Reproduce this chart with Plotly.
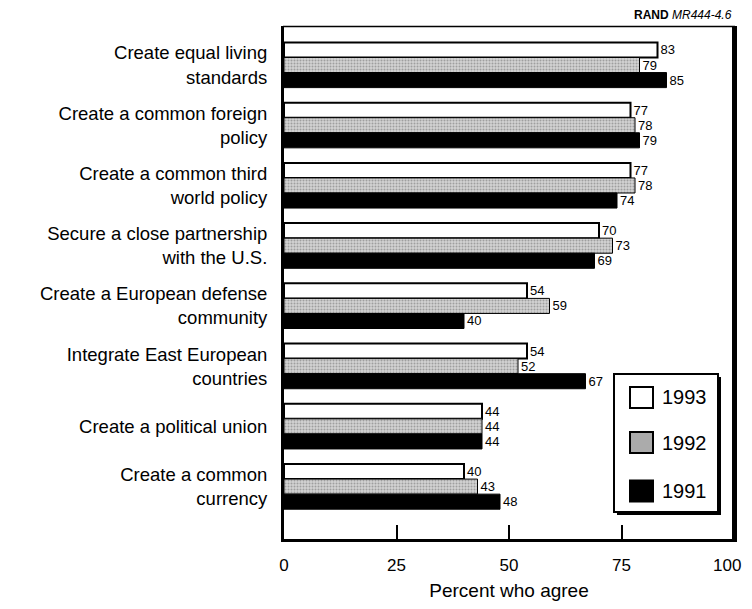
import plotly.graph_objects as go

categories = [
    "Create equal living<br>standards",
    "Create a common foreign<br>policy",
    "Create a common third<br>world policy",
    "Secure a close partnership<br>with the U.S.",
    "Create a European defense<br>community",
    "Integrate East European<br>countries",
    "Create a political union",
    "Create a common<br>currency",
]
years = ["1993", "1992", "1991"]
v1993 = [83, 77, 77, 70, 54, 54, 44, 40]
v1992 = [79, 78, 78, 73, 59, 52, 44, 43]
v1991 = [85, 79, 74, 69, 40, 67, 44, 48]
x_ticks = [0, 25, 50, 75, 100]
x_title = "Percent who agree"
source_label = "<b>RAND</b> <i>MR444-4.6</i>"

FONT = "Liberation Sans, Arial, Helvetica, sans-serif"
OFF = 8  # page body margin
W, H = 752 - 2 * OFF, 609 - 2 * OFF
L, T = 284 - OFF, 26 - OFF
R = W - (734 - OFF)
B = H - (539 - OFF)
PW, PH = W - L - R, H - T - B


def px(xp):
    return (xp - OFF - L) / PW


def py(yp):
    return (H - B - (yp - OFF)) / PH


fig = go.Figure()
styles = {
    "1993": dict(color="white", line=dict(color="black", width=2)),
    "1992": dict(color="#d2d2d2", line=dict(color="black", width=1),
                 pattern=dict(shape=".", fgcolor="#6a6a6a", bgcolor="#d2d2d2", size=3, solidity=0.35)),
    "1991": dict(color="black", line=dict(color="black", width=1)),
}
for yr, vals in zip(years, [v1993, v1992, v1991]):
    fig.add_trace(go.Bar(
        y=categories, x=vals, orientation="h", name=yr,
        marker=styles[yr],
        text=vals, textposition="outside", constraintext="none",
        textfont=dict(family=FONT, size=13, color="black"),
        cliponaxis=False, showlegend=False,
    ))

shapes = []
shapes.append(dict(type="rect", xref="paper", yref="paper", x0=px(617), x1=px(721), y0=py(515), y1=py(377),
                   fillcolor="black", line=dict(width=0), layer="above"))
shapes.append(dict(type="rect", xref="paper", yref="paper", x0=px(614), x1=px(718), y0=py(512), y1=py(374),
                   fillcolor="white", line=dict(color="black", width=2), layer="above"))
# frame: top (thin) and right
shapes.append(dict(type="line", xref="paper", yref="paper", x0=px(283), x1=px(735), y0=py(26.5), y1=py(26.5),
                   line=dict(color="black", width=1.5), layer="above"))
shapes.append(dict(type="line", xref="paper", yref="paper", x0=px(733.5), x1=px(733.5), y0=py(540), y1=py(26),
                   line=dict(color="black", width=3), layer="above"))
centers = [397.5, 442.5, 491]
fills = ["white", "#ababab", "black"]
annotations = []
for yr, c, f in zip(years, centers, fills):
    shapes.append(dict(type="rect", xref="paper", yref="paper", x0=px(630), x1=px(653),
                       y0=py(c + 10.5), y1=py(c - 10.5), fillcolor=f,
                       line=dict(color="black", width=2), layer="above"))
    annotations.append(dict(text=yr, xref="paper", yref="paper", x=px(660), y=py(c),
                            xanchor="left", yanchor="middle", showarrow=False,
                            font=dict(family=FONT, size=20, color="black")))
annotations.append(dict(text=source_label, xref="paper", yref="paper", x=px(734), y=py(15),
                        xanchor="right", yanchor="middle", showarrow=False,
                        font=dict(family=FONT, size=12, color="black")))
# last tick label placed as annotation so it stays inside the visible page
annotations.append(dict(text=str(x_ticks[-1]), xref="x", yref="paper", x=x_ticks[-1], y=py(565),
                        xanchor="right", yanchor="middle", xshift=9, showarrow=False,
                        font=dict(family=FONT, size=17, color="black")))

fig.update_layout(
    width=W, height=H,
    margin=dict(l=L, r=R, t=T, b=B, pad=0, autoexpand=False),
    paper_bgcolor="white", plot_bgcolor="white",
    barmode="group", bargap=0.25, bargroupgap=0,
    font=dict(family=FONT, color="black"),
    shapes=shapes, annotations=annotations,
    xaxis=dict(range=[0, 100], tickvals=x_ticks,
               ticktext=[str(t) for t in x_ticks[:-1]] + [""],
               ticks="inside", ticklen=14, tickwidth=2,
               tickcolor="black", showgrid=False, zeroline=False, showline=True,
               linewidth=3, linecolor="black", tickfont=dict(size=17),
               ticklabelstandoff=9, automargin=False, ticklabeloverflow="allow",
               title=dict(text=x_title, font=dict(size=19), standoff=24)),
    yaxis=dict(range=[7.87, -0.648], showgrid=False, zeroline=False, showline=True,
               mirror=True, linewidth=3, linecolor="black", ticks="", tickfont=dict(size=18.5),
               ticklabelstandoff=10, automargin=False),
)

fig.write_html("out.html")
